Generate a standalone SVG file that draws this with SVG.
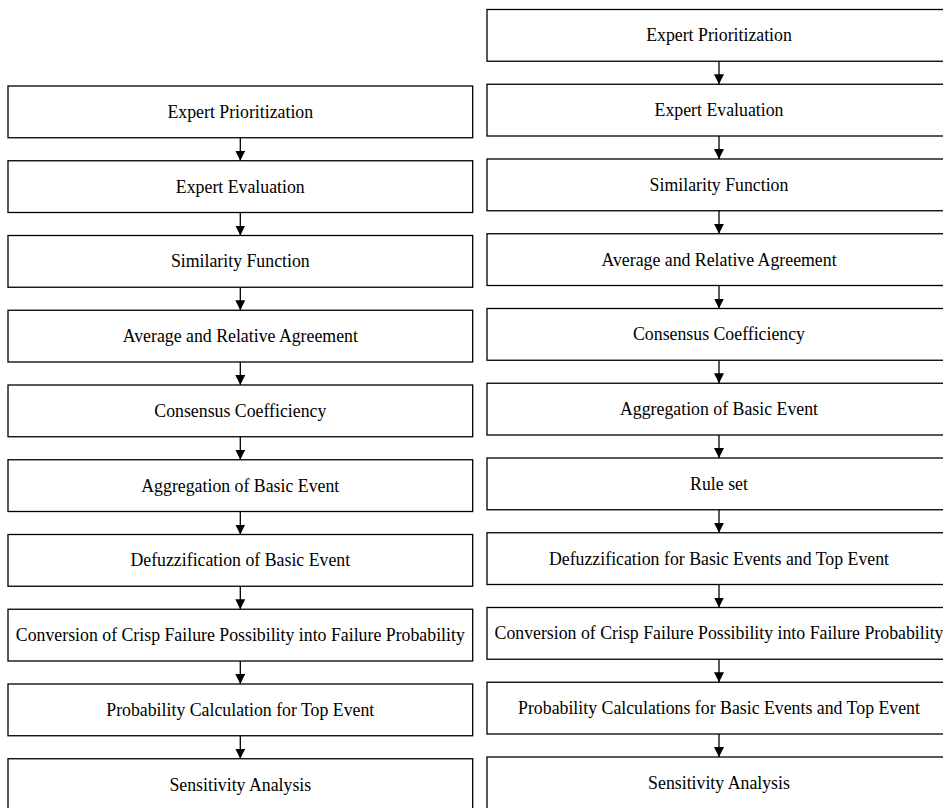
<svg xmlns="http://www.w3.org/2000/svg" width="943" height="808" viewBox="0 0 943 808">
  <style>
    .box rect { fill: #ffffff; stroke: #000000; stroke-width: 1.3; }
    .box text { font-family: "Liberation Serif", "Times New Roman", serif; font-size: 17.8px; fill: #000000; text-anchor: middle; }
    .links line { stroke: #000000; stroke-width: 1.3; marker-end: url(#arrow); }
  </style>
  <defs>
    <marker id="arrow" markerUnits="userSpaceOnUse" markerWidth="10" markerHeight="10" refX="10" refY="5" orient="auto">
      <path d="M0,0 L10,5 L0,10 z" fill="#000000"/>
    </marker>
  </defs>
  <rect x="0" y="0" width="943" height="808" fill="#ffffff"/>

  <!-- left flow -->
  <g id="L1" class="box"><rect x="8" y="86" width="464.7" height="51.75"/><text x="240.3" y="117.9">Expert Prioritization</text></g>
  <g id="L2" class="box"><rect x="8" y="160.75" width="464.7" height="51.75"/><text x="240.3" y="192.6">Expert Evaluation</text></g>
  <g id="L3" class="box"><rect x="8" y="235.5" width="464.7" height="51.75"/><text x="240.3" y="267.4">Similarity Function</text></g>
  <g id="L4" class="box"><rect x="8" y="310.25" width="464.7" height="51.75"/><text x="240.3" y="342.1">Average and Relative Agreement</text></g>
  <g id="L5" class="box"><rect x="8" y="385" width="464.7" height="51.75"/><text x="240.3" y="416.9">Consensus Coefficiency</text></g>
  <g id="L6" class="box"><rect x="8" y="459.75" width="464.7" height="51.75"/><text x="240.3" y="491.6">Aggregation of Basic Event</text></g>
  <g id="L7" class="box"><rect x="8" y="534.5" width="464.7" height="51.75"/><text x="240.3" y="566.4">Defuzzification of Basic Event</text></g>
  <g id="L8" class="box"><rect x="8" y="609.25" width="464.7" height="51.75"/><text x="240.3" y="641.1">Conversion of Crisp Failure Possibility into Failure Probability</text></g>
  <g id="L9" class="box"><rect x="8" y="684" width="464.7" height="51.75"/><text x="240.3" y="715.9">Probability Calculation for Top Event</text></g>
  <g id="L10" class="box"><rect x="8" y="758.75" width="464.7" height="51.75"/><text x="240.3" y="790.6">Sensitivity Analysis</text></g>

  <!-- right flow -->
  <g id="R1" class="box"><rect x="487" y="9.5" width="464" height="51.75"/><text x="719" y="41.4">Expert Prioritization</text></g>
  <g id="R2" class="box"><rect x="487" y="84.25" width="464" height="51.75"/><text x="719" y="116.1">Expert Evaluation</text></g>
  <g id="R3" class="box"><rect x="487" y="159" width="464" height="51.75"/><text x="719" y="190.9">Similarity Function</text></g>
  <g id="R4" class="box"><rect x="487" y="233.75" width="464" height="51.75"/><text x="719" y="265.6">Average and Relative Agreement</text></g>
  <g id="R5" class="box"><rect x="487" y="308.5" width="464" height="51.75"/><text x="719" y="340.4">Consensus Coefficiency</text></g>
  <g id="R6" class="box"><rect x="487" y="383.25" width="464" height="51.75"/><text x="719" y="415.1">Aggregation of Basic Event</text></g>
  <g id="R7" class="box"><rect x="487" y="458" width="464" height="51.75"/><text x="719" y="489.9">Rule set</text></g>
  <g id="R8" class="box"><rect x="487" y="532.75" width="464" height="51.75"/><text x="719" y="564.6">Defuzzification for Basic Events and Top Event</text></g>
  <g id="R9" class="box"><rect x="487" y="607.5" width="464" height="51.75"/><text x="719" y="639.4">Conversion of Crisp Failure Possibility into Failure Probability</text></g>
  <g id="R10" class="box"><rect x="487" y="682.25" width="464" height="51.75"/><text x="719" y="714.1">Probability Calculations for Basic Events and Top Event</text></g>
  <g id="R11" class="box"><rect x="487" y="757" width="464" height="51.75"/><text x="719" y="788.9">Sensitivity Analysis</text></g>

  <!-- connectors -->
  <g id="connectors" class="links">
    <line x1="240.3" y1="137.75" x2="240.3" y2="160.75"/>
    <line x1="240.3" y1="212.5" x2="240.3" y2="235.5"/>
    <line x1="240.3" y1="287.25" x2="240.3" y2="310.25"/>
    <line x1="240.3" y1="362" x2="240.3" y2="385"/>
    <line x1="240.3" y1="436.75" x2="240.3" y2="459.75"/>
    <line x1="240.3" y1="511.5" x2="240.3" y2="534.5"/>
    <line x1="240.3" y1="586.25" x2="240.3" y2="609.25"/>
    <line x1="240.3" y1="661" x2="240.3" y2="684"/>
    <line x1="240.3" y1="735.75" x2="240.3" y2="758.75"/>

    <line x1="719" y1="61.25" x2="719" y2="84.25"/>
    <line x1="719" y1="136" x2="719" y2="159"/>
    <line x1="719" y1="210.75" x2="719" y2="233.75"/>
    <line x1="719" y1="285.5" x2="719" y2="308.5"/>
    <line x1="719" y1="360.25" x2="719" y2="383.25"/>
    <line x1="719" y1="435" x2="719" y2="458"/>
    <line x1="719" y1="509.75" x2="719" y2="532.75"/>
    <line x1="719" y1="584.5" x2="719" y2="607.5"/>
    <line x1="719" y1="659.25" x2="719" y2="682.25"/>
    <line x1="719" y1="734" x2="719" y2="757"/>
  </g>
</svg>
